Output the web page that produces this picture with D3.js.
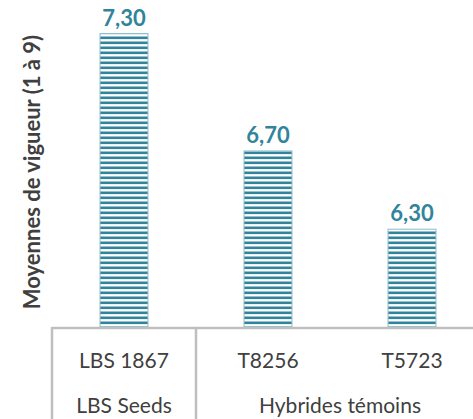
<!DOCTYPE html>
<html>
<head>
<meta charset="utf-8">
<script src="https://cdn.jsdelivr.net/npm/d3@7"></script>
<style>
  body { margin: 0; background: #fff; }
  svg { display: block; font-family: Lato, "Open Sans", sans-serif; }
</style>
</head>
<body>
<svg id="chart"></svg>
<script>
// data
const varieties = ["LBS 1867", "T8256", "T5723"];
const groups = ["LBS Seeds", "Hybrides témoins", "Hybrides témoins"];
const vigueur = [7.30, 6.70, 6.30];
const yTitle = "Moyennes de vigueur (1 à 9)";

const w = 473, h = 419;
const left = 52, right = 484, base = 327;
const teal = "#31849B";

let svg = d3.select("#chart").attr("width", w).attr("height", h);

// stripe pattern
let pat = svg.append("defs").append("pattern")
    .attr("id", "stripes")
    .attr("patternUnits", "userSpaceOnUse")
    .attr("width", 10).attr("height", 5);
pat.append("rect").attr("width", 10).attr("height", 5).attr("fill", "#fff");
pat.append("rect").attr("y", 1.5).attr("width", 10).attr("height", 2.6).attr("fill", teal);

let x = d3.scaleBand().domain(varieties).range([left, right]).paddingInner(0.66).paddingOuter(0.33);
let y = d3.scaleLinear().domain([5.8, 7.4]).range([base, 14]);

svg.selectAll("rect.bar")
    .data(vigueur)
    .enter()
    .append("rect")
    .attr("class", "bar")
    .attr("x", (d, i) => x(varieties[i]) + 0.5)
    .attr("y", d => y(d))
    .attr("width", x.bandwidth() - 1)
    .attr("height", d => base - y(d))
    .attr("fill", "url(#stripes)")
    .attr("stroke", "#8DBFCC")
    .attr("stroke-width", 1);

svg.selectAll("text.val")
    .data(vigueur)
    .enter()
    .append("text")
    .attr("class", "val")
    .attr("x", (d, i) => x(varieties[i]) + x.bandwidth() / 2)
    .attr("y", d => y(d) - 8)
    .attr("text-anchor", "middle")
    .attr("font-size", 22)
    .attr("font-weight", "bold")
    .attr("fill", teal)
    .text(d => d.toFixed(2).replace(".", ","));

// axis line and group separators
const grey = "#BFBFBF";
svg.append("line").attr("x1", left).attr("x2", w).attr("y1", base + 1).attr("y2", base + 1)
    .attr("stroke", grey).attr("stroke-width", 2.5);
let step = x.step();
[left, left + step].forEach(px => {
    svg.append("line").attr("x1", px).attr("x2", px).attr("y1", base).attr("y2", h)
        .attr("stroke", grey).attr("stroke-width", 2.5);
});

svg.selectAll("text.cat")
    .data(varieties)
    .enter()
    .append("text")
    .attr("class", "cat")
    .attr("x", d => x(d) + x.bandwidth() / 2)
    .attr("y", 368)
    .attr("text-anchor", "middle")
    .attr("font-size", 21)
    .attr("fill", "#404040")
    .text(d => d);

let grp = d3.groups(varieties.map((v, i) => ({v, g: groups[i]})), d => d.g);
svg.selectAll("text.grp")
    .data(grp)
    .enter()
    .append("text")
    .attr("class", "grp")
    .attr("x", d => d3.mean(d[1], e => x(e.v) + x.bandwidth() / 2))
    .attr("y", 413)
    .attr("text-anchor", "middle")
    .attr("font-size", 21)
    .attr("fill", "#404040")
    .text(d => d[0]);

svg.append("text")
    .attr("transform", "translate(40,172) rotate(-90)")
    .attr("text-anchor", "middle")
    .attr("font-size", 22)
    .attr("font-weight", "bold")
    .attr("fill", "#404040")
    .text(yTitle);
</script>
</body>
</html>
